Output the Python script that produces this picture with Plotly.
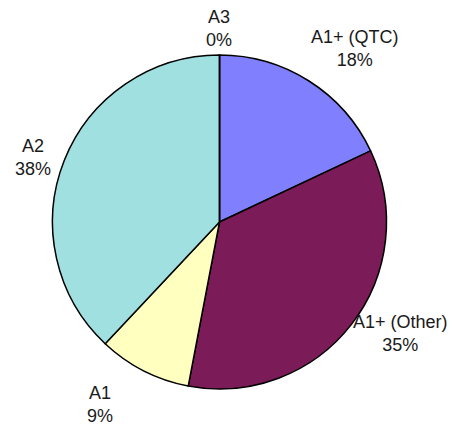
import plotly.graph_objects as go

# slices, clockwise from 12 o'clock
labels = ["A1+ (QTC)", "A1+ (Other)", "A1", "A2", "A3"]
values = [18, 35, 9, 38, 0]
colors = ["#8080FF", "#7B1C58", "#FFFFC0", "#A0E0E0", "#C0C0C0"]

# label centres (paper coords), same order as labels
label_x = [0.759, 0.858, 0.201, 0.055, 0.462]
label_y = [0.904, 0.237, 0.070, 0.650, 0.951]

W, H = 457, 426
off = 8  # page body margin
cx, cy, r = (219.5 - off) / W, 1 - (222 - off) / H, 167

fig = go.Figure(go.Pie(
    labels=labels,
    values=values,
    sort=False,
    direction="clockwise",
    rotation=0,
    marker=dict(colors=colors, line=dict(color="black", width=1.5)),
    textinfo="none",
    hoverinfo="label+percent",
    showlegend=False,
    domain=dict(x=[cx - r / W, cx + r / W], y=[cy - r / H, cy + r / H]),
))

total = sum(values)
for lab, v, x, y in zip(labels, values, label_x, label_y):
    fig.add_annotation(
        x=x, y=y, xref="paper", yref="paper",
        xanchor="center", yanchor="middle",
        text=f"{lab}<br>{round(100 * v / total)}%",
        showarrow=False,
        font=dict(family="Liberation Sans, Arial", size=18, color="#1a1a1a"),
    )

fig.update_layout(
    width=W, height=H,
    margin=dict(l=0, r=0, t=0, b=0),
    paper_bgcolor="white",
    plot_bgcolor="white",
)

fig.write_html("out.html")
